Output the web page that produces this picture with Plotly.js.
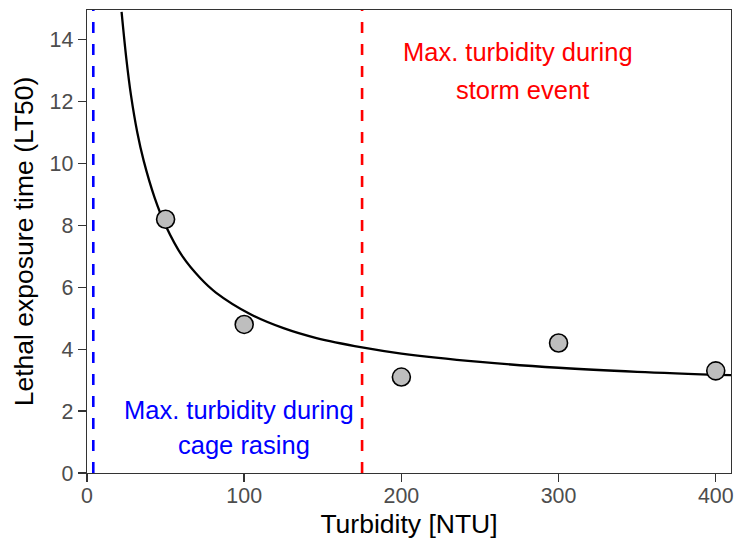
<!DOCTYPE html>
<html>
<head>
<meta charset="utf-8">
<script src="https://cdn.plot.ly/plotly-3.0.1.min.js"></script>
<style>html,body{margin:0;padding:0;background:#fff;}#chart{width:739px;height:539px;}</style>
</head>
<body>
<div id="chart"></div>
<script>
// Observed LT50 values
var turbidity = [50, 100, 200, 300, 400];
var lt50 = [8.2, 4.8, 3.1, 4.2, 3.3];

// Fitted curve
var curveX = [22, 25, 28, 32, 36, 43, 50, 61, 72, 82, 104, 125, 146, 175, 200, 250, 300, 350, 410];
var curveY = [14.9, 13.4, 12.2, 11.0, 10.1, 8.9, 8.0, 6.98, 6.3, 5.83, 5.13, 4.68, 4.36, 4.06, 3.86, 3.59, 3.4, 3.27, 3.16];

// Reference lines
var vlineX = [4, 175];
var vlineColor = ['#0000FF', '#FF0000'];

// Annotation texts
var noteText = ['Max. turbidity during', 'cage rasing', 'Max. turbidity during', 'storm event'];
var noteX = [97, 100, 274, 277];
var noteY = [2.03, 0.9, 13.6, 12.38];
var noteColor = ['#0000FF', '#0000FF', '#FF0000', '#FF0000'];

var xTicks = [0, 100, 200, 300, 400];
var yTicks = [0, 2, 4, 6, 8, 10, 12, 14];

var font = 'Liberation Sans, Arial, Helvetica, sans-serif';

var traces = [
  {x: curveX, y: curveY, mode: 'lines', type: 'scatter', line: {color: '#000', width: 2.3, shape: 'spline', smoothing: 1}, hoverinfo: 'skip', showlegend: false},
  {x: turbidity, y: lt50, mode: 'markers', type: 'scatter', marker: {size: 18, color: '#BEBEBE', line: {color: '#000', width: 1.6}}, showlegend: false}
];

var shapes = vlineX.map(function (v, i) {
  return {type: 'line', xref: 'x', yref: 'paper', x0: v, x1: v, y0: 0, y1: 1,
          line: {color: vlineColor[i], width: 2.6, dash: '11px,11px'}};
});

var annotations = noteText.map(function (t, i) {
  return {text: t, x: noteX[i], y: noteY[i], xref: 'x', yref: 'y', showarrow: false,
          xanchor: 'center', yanchor: 'middle', font: {family: font, size: 25.5, color: noteColor[i]}};
});

var layout = {
  width: 739, height: 539,
  margin: {l: 87.3, r: 8, t: 9.5, b: 66.3},
  paper_bgcolor: '#fff', plot_bgcolor: '#fff',
  font: {family: font},
  showlegend: false,
  xaxis: {
    range: [0, 409.7], tickvals: xTicks, ticktext: xTicks.map(String),
    showgrid: false, zeroline: false,
    showline: true, mirror: true, linecolor: '#333', linewidth: 1.4,
    ticks: 'outside', ticklen: 8, tickwidth: 1.4, tickcolor: '#333',
    ticklabelstandoff: -5,
    tickfont: {family: font, size: 21.4, color: '#4D4D4D'},
    title: {text: 'Turbidity [NTU]', font: {family: font, size: 26.5, color: '#000'}, standoff: 10},
    automargin: false
  },
  yaxis: {
    range: [0, 14.96], tickvals: yTicks, ticktext: yTicks.map(String),
    showgrid: false, zeroline: false,
    showline: true, mirror: true, linecolor: '#333', linewidth: 1.4,
    ticks: 'outside', ticklen: 8, tickwidth: 1.4, tickcolor: '#333',
    tickfont: {family: font, size: 21.4, color: '#4D4D4D'},
    title: {text: 'Lethal exposure time (LT50)', font: {family: font, size: 26.5, color: '#000'}, standoff: 8},
    automargin: false
  },
  shapes: shapes,
  annotations: annotations
};

Plotly.newPlot('chart', traces, layout, {displayModeBar: false, staticPlot: true});
</script>
</body>
</html>
